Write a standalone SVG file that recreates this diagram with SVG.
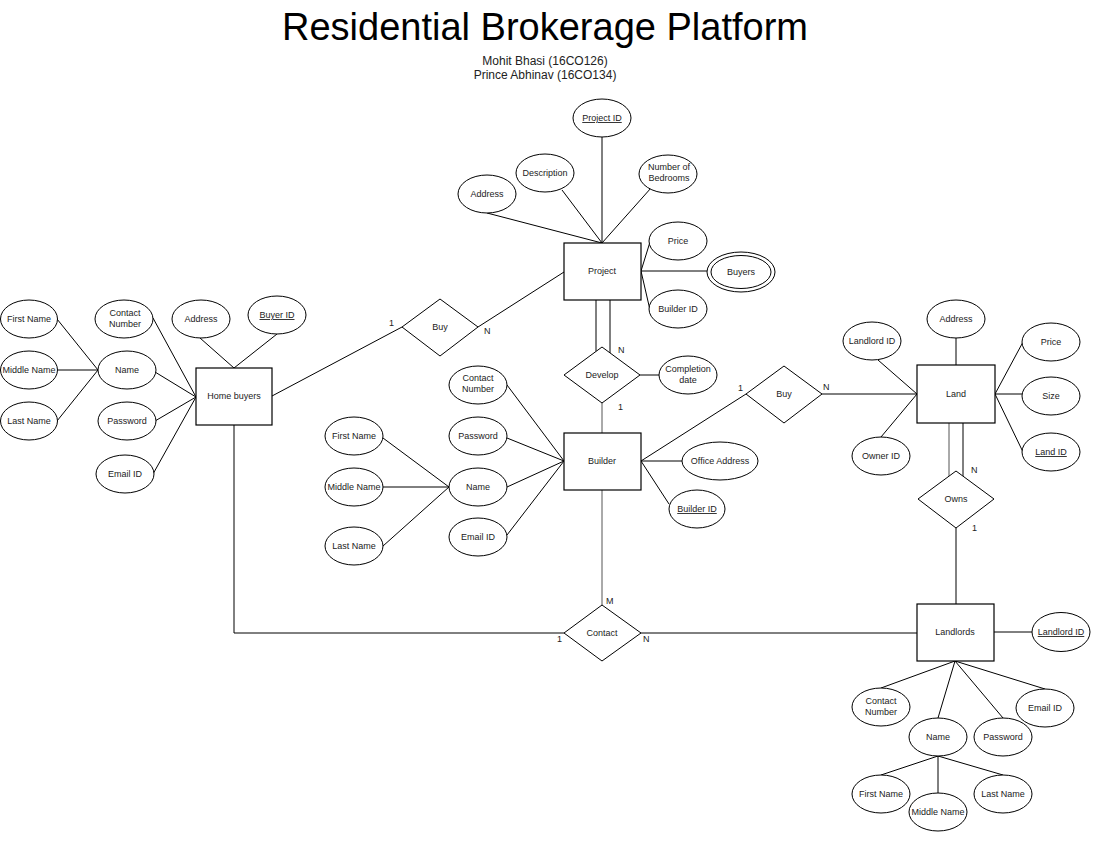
<svg xmlns="http://www.w3.org/2000/svg" width="1106" height="846" viewBox="0 0 1106 846">
<style>
.e{fill:#fff;stroke:#000;stroke-width:1}
.r{fill:#fff;stroke:#000;stroke-width:1.2}
.d{fill:#fff;stroke:#000;stroke-width:1}
.t{font-family:"Liberation Sans",Arial,sans-serif;font-size:9px;fill:#222;text-anchor:middle}
.u{text-decoration:underline}
.c{stroke:#000;stroke-width:1;fill:none}
.g{stroke:#555;stroke-width:1;fill:none}
.k{font-family:"Liberation Sans",Arial,sans-serif;font-size:9px;fill:#222}
</style>
<rect width="1106" height="846" fill="#fff"/>
<text x="545" y="40" style="font-family:'Liberation Sans',Arial,sans-serif;font-size:38px;fill:#000;text-anchor:middle">Residential Brokerage Platform</text>
<text x="545" y="65" style="font-family:'Liberation Sans',Arial,sans-serif;font-size:12px;fill:#222;text-anchor:middle">Mohit Bhasi (16CO126)</text>
<text x="545" y="79" style="font-family:'Liberation Sans',Arial,sans-serif;font-size:12px;fill:#222;text-anchor:middle">Prince Abhinav (16CO134)</text>

<g id="connectors">
<line class="c" x1="602" y1="137" x2="602" y2="243"/>
<line class="c" x1="487" y1="213" x2="602" y2="243"/>
<line class="c" x1="562" y1="190" x2="602" y2="243"/>
<line class="c" x1="651" y1="188" x2="602" y2="243"/>
<line class="c" x1="641" y1="271" x2="650" y2="242"/>
<line class="c" x1="641" y1="271" x2="707" y2="271"/>
<line class="c" x1="641" y1="271" x2="650" y2="310"/>
<line class="c" x1="596" y1="300" x2="596" y2="351.5"/>
<line class="c" x1="610" y1="300" x2="610" y2="353"/>
<line class="c" x1="640" y1="375" x2="659" y2="375"/>
<line class="g" x1="602" y1="403" x2="602" y2="433"/>
<line class="c" x1="564" y1="272" x2="478" y2="327"/>
<line class="c" x1="402" y1="327" x2="272" y2="396"/>
<line class="c" x1="277" y1="334" x2="234" y2="368"/>
<line class="c" x1="200" y1="338" x2="234" y2="368"/>
<line class="c" x1="153" y1="318" x2="196" y2="397"/>
<line class="c" x1="155" y1="372" x2="196" y2="397"/>
<line class="c" x1="155" y1="421" x2="196" y2="397"/>
<line class="c" x1="153" y1="474" x2="196" y2="397"/>
<line class="c" x1="57" y1="319" x2="98" y2="370"/>
<line class="c" x1="58" y1="370" x2="98" y2="370"/>
<line class="c" x1="57" y1="421" x2="98" y2="370"/>
<polyline class="c" points="234,425 234,633 564,633"/>
<line class="g" x1="602" y1="490" x2="602" y2="605"/>
<line class="c" x1="641" y1="633" x2="917" y2="633"/>
<line class="c" x1="507" y1="385" x2="564" y2="461"/>
<line class="c" x1="507" y1="438" x2="564" y2="461"/>
<line class="c" x1="507" y1="487" x2="564" y2="461"/>
<line class="c" x1="507" y1="535" x2="564" y2="461"/>
<line class="c" x1="383" y1="438" x2="449" y2="487"/>
<line class="c" x1="383" y1="487" x2="449" y2="487"/>
<line class="c" x1="383" y1="546" x2="449" y2="487"/>
<line class="c" x1="641" y1="461" x2="682" y2="461"/>
<line class="c" x1="641" y1="461" x2="669" y2="504"/>
<line class="c" x1="641" y1="461" x2="746" y2="394"/>
<line class="c" x1="822" y1="394" x2="917" y2="394"/>
<line class="c" x1="956" y1="338" x2="956" y2="365"/>
<line class="c" x1="878" y1="360" x2="917" y2="394"/>
<line class="c" x1="881" y1="437" x2="917" y2="394"/>
<line class="c" x1="995" y1="394" x2="1023" y2="342"/>
<line class="c" x1="995" y1="394" x2="1022" y2="394"/>
<line class="c" x1="995" y1="394" x2="1023" y2="452"/>
<line class="g" x1="949" y1="423" x2="949" y2="476"/>
<line class="c" x1="963" y1="423" x2="963" y2="476"/>
<line class="c" x1="956" y1="528" x2="956" y2="604"/>
<line class="c" x1="994" y1="632" x2="1032" y2="632"/>
<line class="c" x1="955" y1="661" x2="881" y2="688"/>
<line class="c" x1="955" y1="661" x2="938" y2="718"/>
<line class="c" x1="955" y1="661" x2="1003" y2="718"/>
<line class="c" x1="955" y1="661" x2="1045" y2="689"/>
<line class="c" x1="938" y1="756" x2="881" y2="775"/>
<line class="c" x1="938" y1="756" x2="938" y2="793"/>
<line class="c" x1="938" y1="756" x2="1003" y2="775"/>
<text class="k" x="389" y="326">1</text>
<text class="k" x="484" y="334">N</text>
<text class="k" x="618" y="353">N</text>
<text class="k" x="618" y="410">1</text>
<text class="k" x="738" y="391">1</text>
<text class="k" x="823" y="390">N</text>
<text class="k" x="971" y="473">N</text>
<text class="k" x="972" y="531">1</text>
<text class="k" x="606" y="604">M</text>
<text class="k" x="557" y="642">1</text>
<text class="k" x="643" y="642">N</text>
</g>

<g id="project"><rect class="r" x="564" y="243" width="77" height="57"/><text class="t" x="602" y="274">Project</text></g>
<g id="homebuyers"><rect class="r" x="196" y="368" width="76" height="57"/><text class="t" x="234" y="399">Home buyers</text></g>
<g id="builder"><rect class="r" x="564" y="433" width="77" height="57"/><text class="t" x="602" y="464">Builder</text></g>
<g id="land"><rect class="r" x="917" y="365" width="78" height="58"/><text class="t" x="956" y="397">Land</text></g>
<g id="landlords"><rect class="r" x="917" y="604" width="77" height="57"/><text class="t" x="955" y="635">Landlords</text></g>

<g id="buy1"><polygon class="d" points="440,299 478,327 440,356 402,327"/><text class="t" x="440" y="330">Buy</text></g>
<g id="develop"><polygon class="d" points="602,347 640,375 602,403 564,375"/><text class="t" x="602" y="378">Develop</text></g>
<g id="buy2"><polygon class="d" points="784,366 822,394 784,423 746,394"/><text class="t" x="784" y="397">Buy</text></g>
<g id="owns"><polygon class="d" points="956,471 994,499 956,528 918,499"/><text class="t" x="956" y="502">Owns</text></g>
<g id="contact"><polygon class="d" points="602,605 641,633 602,661 564,633"/><text class="t" x="602" y="636">Contact</text></g>

<g id="p_id"><ellipse class="e" cx="602" cy="118" rx="29" ry="19"/><text class="t u" x="602" y="121">Project ID</text></g>
<g id="p_desc"><ellipse class="e" cx="545" cy="173" rx="29" ry="19"/><text class="t" x="545" y="176">Description</text></g>
<g id="p_bed"><ellipse class="e" cx="668" cy="174" rx="29" ry="19"/><text class="t" x="669" y="170">Number of</text><text class="t" x="669" y="181">Bedrooms</text></g>
<g id="p_addr"><ellipse class="e" cx="487" cy="194" rx="29" ry="19"/><text class="t" x="487" y="197">Address</text></g>
<g id="p_price"><ellipse class="e" cx="678" cy="241" rx="29" ry="19"/><text class="t" x="678" y="244">Price</text></g>
<g id="p_buyers"><ellipse class="e" cx="741" cy="272" rx="34" ry="20"/><ellipse class="e" cx="741" cy="272" rx="30" ry="16.5"/><text class="t" x="741" y="275">Buyers</text></g>
<g id="p_bid"><ellipse class="e" cx="678" cy="309" rx="29" ry="19"/><text class="t" x="678" y="312">Builder ID</text></g>
<g id="p_comp"><ellipse class="e" cx="688" cy="375" rx="29" ry="19"/><text class="t" x="688" y="372">Completion</text><text class="t" x="688" y="383">date</text></g>

<g id="h_bid"><ellipse class="e" cx="277" cy="315" rx="29" ry="19"/><text class="t u" x="277" y="318">Buyer ID</text></g>
<g id="h_addr"><ellipse class="e" cx="201" cy="319" rx="29" ry="19"/><text class="t" x="201" y="322">Address</text></g>
<g id="h_contact"><ellipse class="e" cx="124" cy="319" rx="29" ry="19"/><text class="t" x="125" y="316">Contact</text><text class="t" x="125" y="327">Number</text></g>
<g id="h_name"><ellipse class="e" cx="127" cy="370" rx="29" ry="19"/><text class="t" x="127" y="373">Name</text></g>
<g id="h_pass"><ellipse class="e" cx="127" cy="421" rx="29" ry="19"/><text class="t" x="127" y="424">Password</text></g>
<g id="h_email"><ellipse class="e" cx="125" cy="474" rx="29" ry="19"/><text class="t" x="125" y="477">Email ID</text></g>
<g id="h_first"><ellipse class="e" cx="29" cy="319" rx="28.5" ry="19"/><text class="t" x="29" y="322">First Name</text></g>
<g id="h_middle"><ellipse class="e" cx="29" cy="370" rx="28.5" ry="19"/><text class="t" x="29" y="373">Middle Name</text></g>
<g id="h_last"><ellipse class="e" cx="29" cy="421" rx="28.5" ry="19"/><text class="t" x="29" y="424">Last Name</text></g>

<g id="b_contact"><ellipse class="e" cx="478" cy="385" rx="29" ry="19"/><text class="t" x="478" y="381">Contact</text><text class="t" x="478" y="392">Number</text></g>
<g id="b_pass"><ellipse class="e" cx="478" cy="436" rx="29" ry="19"/><text class="t" x="478" y="439">Password</text></g>
<g id="b_name"><ellipse class="e" cx="478" cy="487" rx="29" ry="19"/><text class="t" x="478" y="490">Name</text></g>
<g id="b_email"><ellipse class="e" cx="478" cy="537" rx="29" ry="19"/><text class="t" x="478" y="540">Email ID</text></g>
<g id="b_first"><ellipse class="e" cx="354" cy="436" rx="29" ry="19"/><text class="t" x="354" y="439">First Name</text></g>
<g id="b_middle"><ellipse class="e" cx="354" cy="487" rx="29" ry="19"/><text class="t" x="354" y="490">Middle Name</text></g>
<g id="b_last"><ellipse class="e" cx="354" cy="546" rx="29" ry="19"/><text class="t" x="354" y="549">Last Name</text></g>
<g id="b_office"><ellipse class="e" cx="720" cy="461" rx="38" ry="19"/><text class="t" x="720" y="464">Office Address</text></g>
<g id="b_bid"><ellipse class="e" cx="697" cy="509" rx="28" ry="19"/><text class="t u" x="697" y="512">Builder ID</text></g>

<g id="l_addr"><ellipse class="e" cx="956" cy="319" rx="29" ry="19"/><text class="t" x="956" y="322">Address</text></g>
<g id="l_lid"><ellipse class="e" cx="872" cy="341" rx="29" ry="19"/><text class="t" x="872" y="344">Landlord ID</text></g>
<g id="l_oid"><ellipse class="e" cx="881" cy="456" rx="29" ry="19"/><text class="t" x="881" y="459">Owner ID</text></g>
<g id="l_price"><ellipse class="e" cx="1051" cy="342" rx="29" ry="19"/><text class="t" x="1051" y="345">Price</text></g>
<g id="l_size"><ellipse class="e" cx="1051" cy="396" rx="29" ry="19"/><text class="t" x="1051" y="399">Size</text></g>
<g id="l_landid"><ellipse class="e" cx="1051" cy="452" rx="29" ry="19"/><text class="t u" x="1051" y="455">Land ID</text></g>

<g id="ll_id"><ellipse class="e" cx="1061" cy="632" rx="29" ry="19.5"/><text class="t u" x="1061" y="635">Landlord ID</text></g>
<g id="ll_contact"><ellipse class="e" cx="881" cy="707" rx="29" ry="19"/><text class="t" x="881" y="704">Contact</text><text class="t" x="881" y="715">Number</text></g>
<g id="ll_name"><ellipse class="e" cx="938" cy="737" rx="29" ry="19"/><text class="t" x="938" y="740">Name</text></g>
<g id="ll_pass"><ellipse class="e" cx="1003" cy="737" rx="29" ry="19"/><text class="t" x="1003" y="740">Password</text></g>
<g id="ll_email"><ellipse class="e" cx="1045" cy="708" rx="29" ry="19"/><text class="t" x="1045" y="711">Email ID</text></g>
<g id="ll_first"><ellipse class="e" cx="881" cy="794" rx="29" ry="19"/><text class="t" x="881" y="797">First Name</text></g>
<g id="ll_middle"><ellipse class="e" cx="938" cy="812" rx="29" ry="19"/><text class="t" x="938" y="815">Middle Name</text></g>
<g id="ll_last"><ellipse class="e" cx="1003" cy="794" rx="29" ry="19"/><text class="t" x="1003" y="797">Last Name</text></g>
</svg>
